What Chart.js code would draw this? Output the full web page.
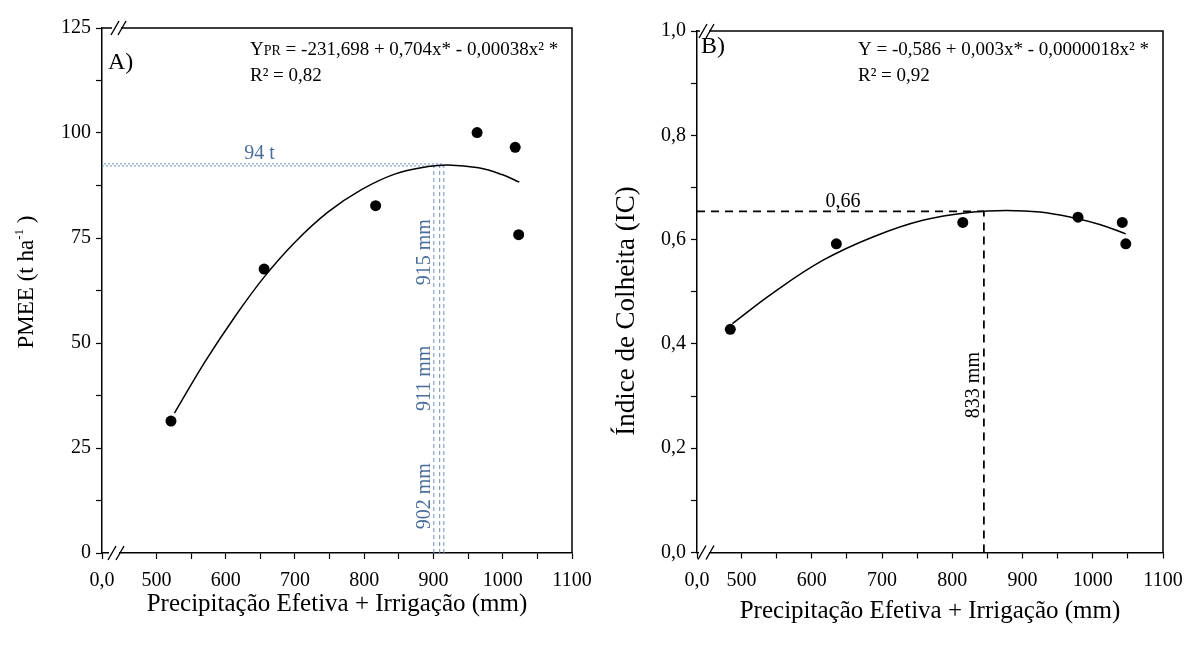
<!DOCTYPE html>
<html>
<head>
<meta charset="utf-8">
<script src="https://cdn.jsdelivr.net/npm/chart.js@4.4.0/dist/chart.umd.min.js"></script>
<style>
html, body { margin: 0; padding: 0; background: #fff; }
#wrap { position: relative; width: 1186px; height: 646px; }
.painel { position: absolute; top: 0; width: 593px; height: 646px; }
#painelA { left: 0; }
#painelB { left: 593px; }
</style>
</head>
<body>
<div id="wrap">
  <div class="painel" id="painelA"><canvas id="chartA" width="593" height="646"></canvas></div>
  <div class="painel" id="painelB"><canvas id="chartB" width="593" height="646"></canvas></div>
</div>
<script>
// ---- Painel A: PMEE (t/ha) x lamina ----
const precipA = [521, 655.5, 816.5, 963, 1018, 1023];
const pmee = [31.4, 67.6, 82.7, 100.1, 96.6, 75.8];
const curvaAx = [526, 570, 613, 656, 700, 748, 796, 844, 892, 921, 965, 999, 1024];
const curvaAy = [33.3, 45.5, 56.2, 65.8, 74.0, 81.2, 86.5, 90.2, 92.0, 92.4, 91.7, 90.1, 88.3];
const maxA = 92.4;
const otimosA = [900.5, 909, 915];
const rotulosA = ['902 mm', '911 mm', '915 mm'];
const rotulosAy = [13.5, 41.6, 71.6];
const minXA = 421.4;

// ---- Painel B: Indice de colheita ----
const precipB = [484, 635, 815, 979, 1042, 1047];
const ic = [0.428, 0.592, 0.633, 0.643, 0.633, 0.592];
const curvaBx = [487, 544, 615.5, 687, 758, 829.5, 877, 924.7, 972, 1010, 1047];
const curvaBy = [0.439, 0.497, 0.560, 0.605, 0.637, 0.653, 0.656, 0.653, 0.642, 0.629, 0.611];
const maxB = 0.654;
const otimoB = 845;
const minXB = 436.6;

// ticks
const ticksX = [500, 550, 600, 650, 700, 750, 800, 850, 900, 950, 1000, 1050, 1100];
const ticksYA = [0, 12.5, 25, 37.5, 50, 62.5, 75, 87.5, 100, 112.5, 125];
const ticksYB = [0, 0.1, 0.2, 0.3, 0.4, 0.5, 0.6, 0.7, 0.8, 0.9, 1.0];

const SERIF = "'Liberation Serif', 'Times New Roman', serif";
const AZUL = '#4a6e9c';

function xy(xs, ys) {
    return xs.map((v, i) => ({ x: v, y: ys[i] }));
}

// texto com trechos de tamanhos diferentes (sub/sobrescrito)
function textoRico(ctx, partes, x, y, opts) {
    opts = opts || {};
    ctx.save();
    ctx.translate(x, y);
    if (opts.rot) ctx.rotate(opts.rot);
    ctx.fillStyle = opts.cor || '#000';
    ctx.textBaseline = 'alphabetic';
    ctx.textAlign = 'left';
    let total = 0;
    partes.forEach(p => {
        ctx.font = p.f + 'px ' + SERIF;
        p.w = ctx.measureText(p.t).width;
        total += p.w;
    });
    let cx = opts.centro ? -total / 2 : 0;
    partes.forEach(p => {
        ctx.font = p.f + 'px ' + SERIF;
        ctx.fillText(p.t, cx, p.dy || 0);
        cx += p.w;
    });
    ctx.restore();
}

function quebra(ctx, x, y, dx) {
    ctx.save();
    ctx.fillStyle = '#fff';
    ctx.fillRect(x - 3, y - 2, dx + 2, 4);
    ctx.strokeStyle = '#000';
    ctx.lineWidth = 1.4;
    [0, dx].forEach(o => {
        ctx.beginPath();
        ctx.moveTo(x + o - 4, y + 7);
        ctx.lineTo(x + o + 4, y - 7);
        ctx.stroke();
    });
    ctx.restore();
}

const molduraPlugin = {
    id: 'moldura',
    afterDraw(chart, args, opts) {
        const { ctx, chartArea: a } = chart;
        ctx.save();
        ctx.strokeStyle = '#000';
        ctx.lineWidth = 1.5;
        ctx.beginPath();
        ctx.moveTo(a.left, a.top);
        ctx.lineTo(a.right, a.top);
        ctx.lineTo(a.right, a.bottom);
        ctx.stroke();
        ctx.restore();
        quebra(ctx, a.left + opts.qTopo, a.top, 7);
        quebra(ctx, a.left + opts.qBase, a.bottom, 8);
        if (opts.textos) opts.textos(chart, ctx);
    }
};

function escalaX(minX, titulo, padBase, alturaX) {
    return {
        type: 'linear',
        min: minX,
        max: 1100,
        afterBuildTicks: s => { s.ticks = [minX].concat(ticksX).map(v => ({ value: v })); },
        afterFit: s => {
            s.height = alturaX;
            // a area do grafico e fixada pelo layout.padding
            s.paddingLeft = 0;
            s.paddingRight = 0;
        },
        border: { color: '#000', width: 1.5 },
        grid: { drawOnChartArea: false, drawTicks: true, tickLength: 6, tickColor: '#000', tickWidth: 1.2 },
        ticks: {
            autoSkip: false, maxRotation: 0, padding: 10, color: '#000',
            font: { family: SERIF, size: 20 },
            callback: v => v === minX ? '0,0' : (v % 100 === 0 ? String(v) : '')
        },
        title: {
            display: true, text: titulo, color: '#000',
            font: { family: SERIF, size: 25 },
            padding: { top: 0, bottom: padBase }
        }
    };
}

function escalaY(max, ticks, rotulo, largura) {
    return {
        type: 'linear',
        min: 0,
        max: max,
        afterBuildTicks: s => { s.ticks = ticks.map(v => ({ value: v })); },
        afterFit: s => { s.width = largura; },
        border: { color: '#000', width: 1.5 },
        grid: { drawOnChartArea: false, drawTicks: true, tickLength: 6, tickColor: '#000', tickWidth: 1.2 },
        ticks: {
            autoSkip: false, padding: 5, color: '#000',
            font: { family: SERIF, size: 20 },
            callback: rotulo
        }
    };
}

const pontoStyle = {
    showLine: false, pointRadius: 5.5, pointHoverRadius: 5.5,
    pointBackgroundColor: '#000', pointBorderColor: '#000', borderWidth: 0
};

// ----------------- grafico A -----------------
new Chart(document.getElementById('chartA'), {
    type: 'scatter',
    data: {
        datasets: [
            Object.assign({ label: 'PMEE', data: xy(precipA, pmee) }, pontoStyle),
            {
                label: 'ajuste', data: xy(curvaAx, curvaAy), showLine: true,
                borderColor: '#000', borderWidth: 1.5, pointRadius: 0, tension: 0.4
            },
            {
                label: 'max1', data: [{ x: minXA, y: maxA - 0.25 }, { x: otimosA[2], y: maxA - 0.25 }],
                showLine: true, borderColor: '#7fa2cb', borderWidth: 1.2, borderDash: [2, 2], pointRadius: 0
            },
            {
                label: 'max2', data: [{ x: minXA, y: maxA + 0.25 }, { x: otimosA[2], y: maxA + 0.25 }],
                showLine: true, borderColor: '#7fa2cb', borderWidth: 1.2, borderDash: [2, 2], borderDashOffset: 2, pointRadius: 0
            }
        ].concat(otimosA.map(v => ({
            label: 'x' + v, data: [{ x: v, y: 0 }, { x: v, y: maxA }],
            showLine: true, borderColor: '#6a8fbb', borderWidth: 1, borderDash: [4, 3], pointRadius: 0
        })))
    },
    options: {
        responsive: false,
        animation: false,
        layout: { padding: { top: 28, right: 21, left: 0, bottom: 0 } },
        plugins: {
            legend: { display: false },
            tooltip: { enabled: false },
            moldura: {
                qTopo: 13, qBase: 10,
                textos: (chart, ctx) => {
                    const a = chart.chartArea;
                    const sx = chart.scales.x, sy = chart.scales.y;
                    textoRico(ctx, [{ t: 'A)', f: 24 }], a.left + 6, 69);
                    textoRico(ctx, [{ t: 'Y', f: 19 }, { t: 'PR', f: 14 },
                        { t: ' = -231,698 + 0,704x* - 0,00038x² *', f: 19 }], a.left + 148, 55);
                    textoRico(ctx, [{ t: 'R² = 0,82', f: 19 }], a.left + 148, 81);
                    textoRico(ctx, [{ t: '94 t', f: 20 }], sx.getPixelForValue(649), sy.getPixelForValue(95.4) + 7,
                        { cor: AZUL, centro: true });
                    rotulosA.forEach((r, i) => {
                        textoRico(ctx, [{ t: r, f: 20 }], sx.getPixelForValue(884.8) + 7, sy.getPixelForValue(rotulosAy[i]),
                            { cor: AZUL, centro: true, rot: -Math.PI / 2 });
                    });
                    textoRico(ctx, [{ t: 'PMEE (t ha', f: 23 }, { t: '-1', f: 13, dy: -10 }, { t: ' )', f: 23 }],
                        33, 282, { centro: true, rot: -Math.PI / 2 });
                }
            }
        },
        scales: {
            x: escalaX(minXA, 'Precipitação Efetiva + Irrigação (mm)', 27, 93),
            y: escalaY(125, ticksYA, v => (v % 25 === 0 ? String(v) : ''), 102)
        }
    },
    plugins: [molduraPlugin]
});

// ----------------- grafico B -----------------
new Chart(document.getElementById('chartB'), {
    type: 'scatter',
    data: {
        datasets: [
            Object.assign({ label: 'IC', data: xy(precipB, ic) }, pontoStyle),
            {
                label: 'ajuste', data: xy(curvaBx, curvaBy), showLine: true,
                borderColor: '#000', borderWidth: 1.5, pointRadius: 0, tension: 0.4
            },
            {
                label: 'maxH', data: [{ x: minXB, y: maxB }, { x: otimoB, y: maxB }],
                showLine: true, borderColor: '#000', borderWidth: 1.8, borderDash: [8, 6], pointRadius: 0
            },
            {
                label: 'maxV', data: [{ x: otimoB, y: 0 }, { x: otimoB, y: maxB }],
                showLine: true, borderColor: '#000', borderWidth: 1.8, borderDash: [8, 6], pointRadius: 0
            }
        ]
    },
    options: {
        responsive: false,
        animation: false,
        layout: { padding: { top: 31, right: 23, left: 0, bottom: 0 } },
        plugins: {
            legend: { display: false },
            tooltip: { enabled: false },
            moldura: {
                qTopo: 6, qBase: 5,
                textos: (chart, ctx) => {
                    const a = chart.chartArea;
                    const sx = chart.scales.x, sy = chart.scales.y;
                    textoRico(ctx, [{ t: 'B)', f: 24 }], a.left + 4, 53);
                    textoRico(ctx, [{ t: 'Y = -0,586 + 0,003x* - 0,0000018x² *', f: 19 }], a.left + 161, 55);
                    textoRico(ctx, [{ t: 'R² = 0,92', f: 19 }], a.left + 161, 81);
                    textoRico(ctx, [{ t: '0,66', f: 20 }], sx.getPixelForValue(644.6), sy.getPixelForValue(0.675) + 7,
                        { centro: true });
                    textoRico(ctx, [{ t: '833 mm', f: 20 }], sx.getPixelForValue(828) + 7, sy.getPixelForValue(0.321),
                        { centro: true, rot: -Math.PI / 2 });
                    textoRico(ctx, [{ t: 'Índice de Colheita (IC)', f: 27 }], 41, 311,
                        { centro: true, rot: -Math.PI / 2 });
                }
            }
        },
        scales: {
            x: escalaX(minXB, 'Precipitação Efetiva + Irrigação (mm)', 20, 93.5),
            y: escalaY(1, ticksYB, v => (Math.round(v * 10) % 2 === 0 ? v.toFixed(1).replace('.', ',') : ''), 104)
        }
    },
    plugins: [molduraPlugin]
});
</script>
</body>
</html>
